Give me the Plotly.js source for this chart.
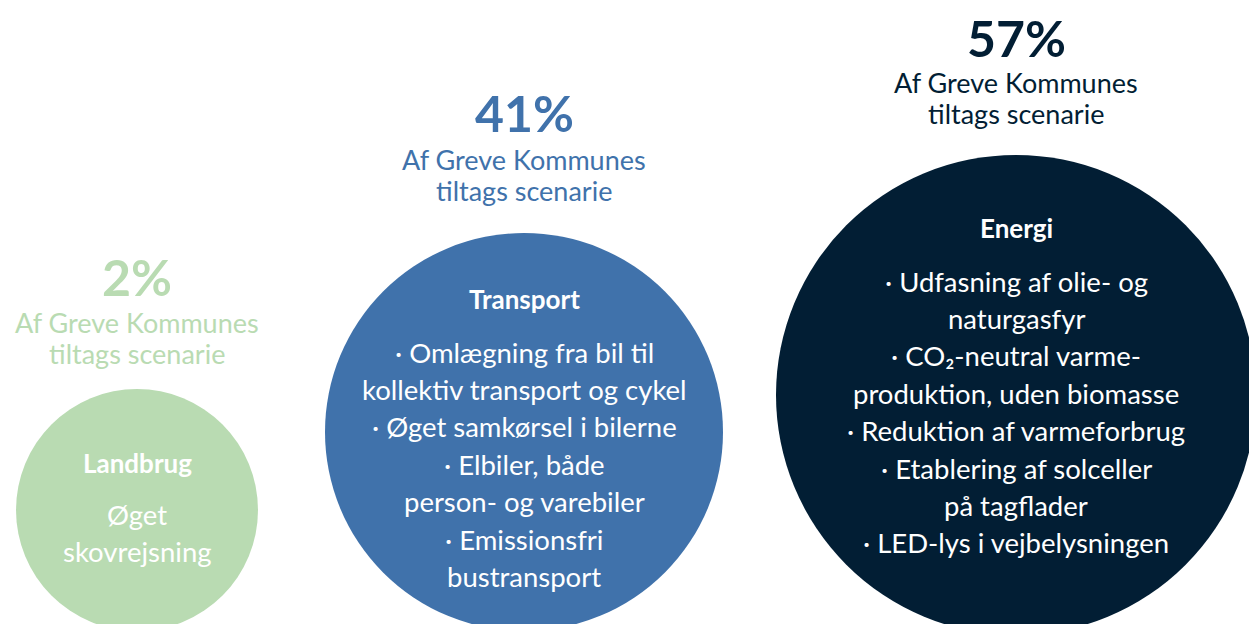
<!DOCTYPE html>
<html>
<head>
<meta charset="utf-8">
<script src="https://cdn.plot.ly/plotly-3.0.1.min.js"></script>
<style>
  html, body { margin: 0; padding: 0; background: #ffffff; }
  #chart { width: 1249px; height: 624px; }
</style>
</head>
<body>
<div id="chart"></div>
<script>
// ---------- data ----------
const categories = ["Landbrug", "Transport", "Energi"];
const shares = [2, 41, 57];
const subtitleLines = ["Af Greve Kommunes", "tiltags scenarie"];
const measuresLandbrug = ["Øget", "skovrejsning"];
const measuresTransport = [
  "· Omlægning fra bil til",
  "kollektiv transport og cykel",
  "· Øget samkørsel i bilerne",
  "· Elbiler, både",
  "person- og varebiler",
  "· Emissionsfri",
  "bustransport"
];
const measuresEnergi = [
  "· Udfasning af olie- og",
  "naturgasfyr",
  "· CO₂-neutral varme-",
  "produktion, uden biomasse",
  "· Reduktion af varmeforbrug",
  "· Etablering af solceller",
  "på tagflader",
  "· LED-lys i vejbelysningen"
];

// ---------- layout / style ----------
const W = 1249, H = 624;
const colors = ["#b9dbb2", "#4072ab", "#021e34"];
const centerX = [137, 524, 1016];
const centerY = [510, 432, 395];
const radius = [121, 199, 240];
const pctY = [277, 113, 38];
const subY = [322, 159, 82];
const subSpacing = 31.5;
const headY = [463, 299, 228];
const bodyY = [514, 352, 281];
const bodySpacing = 37.4;
const FONT = "Lato, 'Open Sans', sans-serif";

const measures = [measuresLandbrug, measuresTransport, measuresEnergi];

const trace = {
  type: "scatter",
  mode: "markers",
  x: centerX,
  y: centerY,
  text: categories.map((c, i) => c + ": " + shares[i] + "%"),
  hoverinfo: "text",
  cliponaxis: true,
  marker: {
    size: radius.map(r => 2 * r),
    sizemode: "diameter",
    color: colors,
    opacity: 1,
    line: { width: 0 }
  },
  showlegend: false
};

const annotations = [];
categories.forEach((cat, i) => {
  annotations.push({
    x: centerX[i], y: pctY[i], xref: "x", yref: "y",
    text: "<b>" + shares[i] + "%</b>", showarrow: false,
    xanchor: "center", yanchor: "middle",
    font: { family: FONT, size: 50, color: colors[i] }
  });
  subtitleLines.forEach((t, k) => {
    annotations.push({
      x: centerX[i], y: subY[i] + k * subSpacing, xref: "x", yref: "y",
      text: t, showarrow: false, xanchor: "center", yanchor: "middle",
      font: { family: FONT, size: 27, color: colors[i] }
    });
  });
  annotations.push({
    x: centerX[i], y: headY[i], xref: "x", yref: "y",
    text: "<b>" + cat + "</b>", showarrow: false,
    xanchor: "center", yanchor: "middle",
    font: { family: FONT, size: 26, color: "#ffffff" }
  });
  measures[i].forEach((t, k) => {
    annotations.push({
      x: centerX[i], y: bodyY[i] + k * bodySpacing, xref: "x", yref: "y",
      text: t, showarrow: false, xanchor: "center", yanchor: "middle",
      font: { family: FONT, size: 27.5, color: "#ffffff" }
    });
  });
});

const layout = {
  width: W, height: H,
  margin: { l: 0, r: 0, t: 0, b: 0, pad: 0 },
  paper_bgcolor: "#ffffff",
  plot_bgcolor: "#ffffff",
  xaxis: { range: [0, W], visible: false, fixedrange: true },
  yaxis: { range: [H, 0], visible: false, fixedrange: true },
  annotations: annotations,
  showlegend: false
};

Plotly.newPlot("chart", [trace], layout, { displayModeBar: false, staticPlot: true });
</script>
</body>
</html>
